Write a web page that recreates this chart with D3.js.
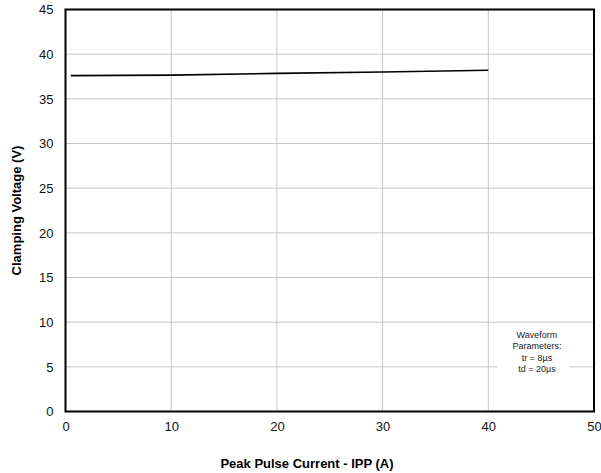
<!DOCTYPE html>
<html>
<head>
<meta charset="utf-8">
<script src="https://cdn.jsdelivr.net/npm/d3@7"></script>
<style>
  html, body { margin: 0; padding: 0; background: #fff; }
  svg text { font-family: "Liberation Sans", Arial, sans-serif; }
</style>
</head>
<body>
<svg id="chart" width="601" height="473"></svg>
<script>
// Clamping voltage vs. peak pulse current
const currentA = [0.5, 10, 20, 30, 40];
const clampV = [37.6, 37.65, 37.85, 38.0, 38.2];
const xTicks = [0, 10, 20, 30, 40, 50];
const yTicks = [0, 5, 10, 15, 20, 25, 30, 35, 40, 45];
const noteLines = ["Waveform", "Parameters:", "tr = 8µs", "td = 20µs"];

const svg = d3.select("#chart");
const m = { left: 65.5, right: 594, top: 9.5, bottom: 411.5 };

const x = d3.scaleLinear().domain([0, 50]).range([m.left, m.right]);
const y = d3.scaleLinear().domain([0, 45]).range([m.bottom, m.top]);

// grid
const grid = svg.append("g").attr("stroke", "#c6c6c6").attr("stroke-width", 1);
grid.selectAll("line.v").data(xTicks.slice(1, -1)).join("line")
  .attr("x1", d => x(d)).attr("x2", d => x(d))
  .attr("y1", m.top).attr("y2", m.bottom);
grid.selectAll("line.h").data(yTicks.slice(1, -1)).join("line")
  .attr("y1", d => y(d)).attr("y2", d => y(d))
  .attr("x1", m.left).attr("x2", m.right);

// note box
const noteX = x(44.6), noteY0 = 338;
svg.append("rect")
  .attr("x", x(40.9)).attr("y", noteY0 - 10)
  .attr("width", x(47.7) - x(40.9)).attr("height", 51)
  .attr("fill", "#fff");
svg.append("g").selectAll("text").data(noteLines).join("text")
  .attr("x", noteX).attr("y", (d, i) => noteY0 + i * 11.3)
  .attr("text-anchor", "middle").attr("font-size", 9).attr("fill", "#222")
  .text(d => d);

// data line
svg.append("path")
  .datum(currentA.map((c, i) => [c, clampV[i]]))
  .attr("fill", "none").attr("stroke", "#000").attr("stroke-width", 1.6)
  .attr("d", d3.line().x(d => x(d[0])).y(d => y(d[1])));

// frame
svg.append("rect")
  .attr("x", m.left).attr("y", m.top)
  .attr("width", m.right - m.left).attr("height", m.bottom - m.top)
  .attr("fill", "none").attr("stroke", "#000").attr("stroke-width", 2);

// axes
const xAxis = svg.append("g").attr("transform", `translate(0,${m.bottom})`)
  .call(d3.axisBottom(x).tickValues(xTicks).tickSize(0).tickPadding(10));
const yAxis = svg.append("g").attr("transform", `translate(${m.left},0)`)
  .call(d3.axisLeft(y).tickValues(yTicks).tickSize(0).tickPadding(12));
[xAxis, yAxis].forEach(a => {
  a.select(".domain").remove();
  a.selectAll("text").attr("font-size", 13).attr("fill", "#111")
    .attr("font-family", "Liberation Sans, Arial, sans-serif");
});

// axis titles
svg.append("text").attr("x", 307).attr("y", 468)
  .attr("text-anchor", "middle").attr("font-size", 13).attr("font-weight", "bold")
  .text("Peak Pulse Current - IPP (A)");
svg.append("text")
  .attr("transform", `translate(21,${(m.top + m.bottom) / 2}) rotate(-90)`)
  .attr("text-anchor", "middle").attr("font-size", 13).attr("font-weight", "bold")
  .text("Clamping Voltage (V)");
</script>
</body>
</html>
